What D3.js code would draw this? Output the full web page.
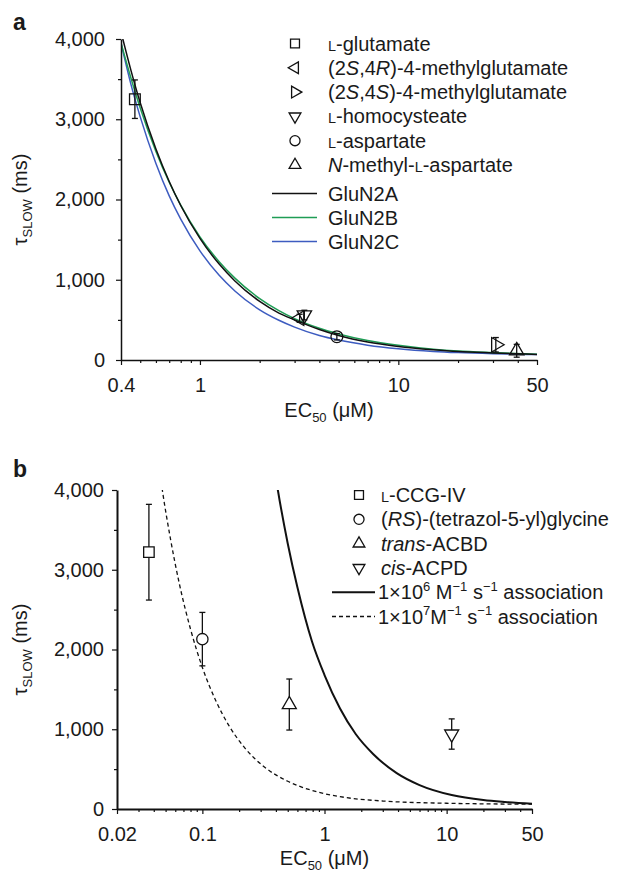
<!DOCTYPE html>
<html>
<head>
<meta charset="utf-8">
<script src="https://cdn.jsdelivr.net/npm/d3@7"></script>
<style>
  body { margin: 0; background: #fff; }
  svg text { font-family: "Liberation Sans", Arial, sans-serif; fill: #1a1a1a; }
</style>
</head>
<body>
<svg id="chart" width="617" height="873"></svg>
<script>
// ---------- panel a ----------
const labelsA = [
  "<sc>L</sc>-glutamate",
  "(2<i>S</i>,4<i>R</i>)-4-methylglutamate",
  "(2<i>S</i>,4<i>S</i>)-4-methylglutamate",
  "<sc>L</sc>-homocysteate",
  "<sc>L</sc>-aspartate",
  "<i>N</i>-methyl-<sc>L</sc>-aspartate"
];
const symbolsA = ["square", "left", "right", "down", "circle", "up"];
const ec50A = [0.47, 3.18, 31, 3.36, 4.9, 39.5];
const tauA = [3250, 520, 190, 560, 290, 115];
const errA = [240, 50, 90, 60, 40, 80];

const curveNamesA = ["GluN2A", "GluN2B", "GluN2C"];
const curveColorsA = ["#111111", "#1f9d55", "#3d5cc0"];
const curveEcA = [0.4, 0.45, 0.5, 0.6, 0.7, 0.8, 1, 1.25, 1.5, 2, 2.5, 3, 4, 5, 7, 10, 15, 20, 30, 50];
const glun2aTau = [4090, 3600, 3205, 2630, 2225, 1925, 1515, 1195, 985, 730, 585, 500, 380, 305, 223, 168, 127, 105, 88, 70];
const glun2bTau = [3950, 3505, 3140, 2600, 2215, 1930, 1535, 1225, 1020, 765, 615, 515, 395, 325, 243, 184, 135, 112, 92, 72];
const glun2cTau = [3950, 3425, 3030, 2450, 2045, 1755, 1360, 1055, 860, 625, 495, 410, 305, 248, 185, 140, 107, 92, 78, 67];

const xTicksA = [0.4, 1, 10, 50];
const xMinorA = [0.5, 0.6, 0.7, 0.8, 0.9, 2, 3, 4, 5, 6, 7, 8, 9, 20, 30, 40];

// ---------- panel b ----------
const labelsB = [
  "<sc>L</sc>-CCG-IV",
  "(<i>RS</i>)-(tetrazol-5-yl)glycine",
  "<i>trans</i>-ACBD",
  "<i>cis</i>-ACPD"
];
const symbolsB = ["square", "circle", "up", "down"];
const ec50B = [0.0365, 0.1, 0.515, 11];
const tauB = [3220, 2130, 1310, 940];
const errB = [600, 335, 320, 190];

const lineLabelsB = [
  "1×10<sup>6</sup> M<sup>−1</sup> s<sup>−1</sup> association",
  "1×10<sup>7</sup>M<sup>−1</sup> s<sup>−1</sup> association"
];
const assoc6Ec = [0.4, 0.415, 0.5, 0.6, 0.79, 1, 1.34, 1.8, 2.5, 3.9, 6, 11, 20, 30, 50];
const assoc6Tau = [4150, 4000, 3330, 2780, 2100, 1680, 1260, 940, 690, 450, 300, 175, 112, 88, 66];
const assoc7Ec = [0.045, 0.047, 0.055, 0.065, 0.08, 0.1, 0.13, 0.165, 0.22, 0.32, 0.5, 0.8, 1.34, 3, 10, 50];
const assoc7Tau = [4200, 4000, 3375, 2815, 2255, 1775, 1345, 1045, 775, 530, 348, 230, 155, 100, 72, 60];

const xTicksB = [0.02, 0.1, 1, 10, 50];
const xMinorB = [0.03, 0.04, 0.05, 0.06, 0.07, 0.08, 0.09, 0.2, 0.3, 0.4, 0.5, 0.6, 0.7, 0.8, 0.9,
                 2, 3, 4, 5, 6, 7, 8, 9, 20, 30, 40];

// shared y ticks
const yTicks = [0, 1000, 2000, 3000, 4000];
const yMinor = [500, 1500, 2500, 3500];

const FONT = '"Liberation Sans", Arial, sans-serif';
const svg = d3.select("#chart");

// small markup -> tspans (italic, small caps, sup, sub)
function richText(textSel, markup, size) {
  const parts = markup.split(/(<\/?\w+>)/).filter(s => s.length);
  const st = { i: false, sc: false, sup: false, sub: false };
  let cur = 0;
  parts.forEach(p => {
    if (p[0] === "<") {
      const close = p[1] === "/";
      const tag = p.replace(/[<>\/]/g, "");
      st[tag] = !close;
      return;
    }
    const off = st.sup ? -0.42 * size : st.sub ? 0.25 * size : 0;
    const t = textSel.append("tspan").text(p).attr("dy", off - cur);
    cur = off;
    if (st.i) t.style("font-style", "italic");
    if (st.sc) t.attr("font-size", size * 0.72);
    if (st.sup || st.sub) t.attr("font-size", size * 0.65);
  });
}

function symbolPath(kind, size) {
  if (kind === "square") return d3.symbol(d3.symbolSquare, size)();
  if (kind === "circle") return d3.symbol(d3.symbolCircle, size)();
  return d3.symbol(d3.symbolTriangle, size)();
}
function symbolRot(kind) {
  return { left: -90, right: 90, down: 180 }[kind] || 0;
}

function drawMarker(g, kind, cx, cy, size, fill) {
  g.append("path")
    .attr("d", symbolPath(kind, size))
    .attr("transform", `translate(${cx},${cy}) rotate(${symbolRot(kind)})`)
    .attr("fill", fill)
    .attr("stroke", "#111")
    .attr("stroke-width", 1.3);
}

function drawAxes(g, x, y, cfg) {
  const [x0, x1] = x.range();
  const [y0, y1] = y.range();

  g.append("g").attr("transform", `translate(0,${y0})`)
    .call(d3.axisBottom(x).tickValues(cfg.xMinor).tickSize(3).tickFormat(""))
    .call(s => s.select(".domain").remove())
    .selectAll("line").attr("stroke", "#111").attr("stroke-width", 1.2);

  const xa = g.append("g").attr("transform", `translate(0,${y0})`)
    .call(d3.axisBottom(x).tickValues(cfg.xTicks).tickSize(5).tickSizeOuter(0)
      .tickPadding(13).tickFormat(d => String(d)));
  xa.attr("font-size", 20).attr("font-family", FONT);
  xa.select(".domain").attr("stroke", "#111").attr("stroke-width", cfg.axisW);
  xa.selectAll("line").attr("stroke", "#111").attr("stroke-width", 1.2);

  g.append("g").attr("transform", `translate(${x0},0)`)
    .call(d3.axisLeft(y).tickValues(yMinor).tickSize(3).tickFormat(""))
    .call(s => s.select(".domain").remove())
    .selectAll("line").attr("stroke", "#111").attr("stroke-width", 1.2);

  const ya = g.append("g").attr("transform", `translate(${x0},0)`)
    .call(d3.axisLeft(y).tickValues(yTicks).tickSize(5).tickSizeOuter(0)
      .tickPadding(cfg.yPad).tickFormat(d3.format(",")));
  ya.attr("font-size", 20).attr("font-family", FONT);
  ya.select(".domain").attr("stroke", "#111").attr("stroke-width", cfg.axisW);
  ya.selectAll("line").attr("stroke", "#111").attr("stroke-width", 1.2);

  // axis titles
  const yt = g.append("text")
    .attr("transform", `translate(27,${(y0 + y1) / 2}) rotate(-90)`)
    .attr("text-anchor", "middle").attr("font-size", 20);
  richText(yt, "τ<sub>SLOW</sub> (ms)", 20);

  const xt = g.append("text")
    .attr("x", (x0 + x1) / 2).attr("y", cfg.xTitleY)
    .attr("text-anchor", "middle").attr("font-size", 20);
  richText(xt, "EC<sub>50</sub> (μM)", 20);

  g.append("text").attr("x", 13).attr("y", cfg.letterY)
    .attr("font-size", 23).attr("font-weight", "bold").text(cfg.letter);
}

function drawErr(g, cx, yTop, yBot, cap) {
  g.append("line").attr("x1", cx).attr("x2", cx).attr("y1", yTop).attr("y2", yBot)
    .attr("stroke", "#111").attr("stroke-width", 1.3);
  [yTop, yBot].forEach(yy => g.append("line")
    .attr("x1", cx - cap).attr("x2", cx + cap).attr("y1", yy).attr("y2", yy)
    .attr("stroke", "#111").attr("stroke-width", 1.3));
}

// ================= panel a =================
{
  const g = svg.append("g");
  const x = d3.scaleLog().domain([0.4, 50]).range([121, 537]);
  const y = d3.scaleLinear().domain([0, 4000]).range([360, 39]);

  svg.append("clipPath").attr("id", "clipA").append("rect")
    .attr("x", 121).attr("y", 39).attr("width", 416).attr("height", 321);

  const line = d3.line().x(d => x(d[0])).y(d => y(d[1])).curve(d3.curveMonotoneX);
  const series = [glun2aTau, glun2bTau, glun2cTau];
  // blue, green, then black on top
  [2, 1, 0].forEach(k => {
    g.append("path")
      .attr("clip-path", "url(#clipA)")
      .attr("d", line(curveEcA.map((e, i) => [e, series[k][i]])))
      .attr("fill", "none").attr("stroke", curveColorsA[k]).attr("stroke-width", 1.5);
  });

  ec50A.forEach((e, i) => {
    drawErr(g, x(e), y(tauA[i] + errA[i]), y(tauA[i] - errA[i]), 3);
    const sz = symbolsA[i] === "square" ? 115 : symbolsA[i] === "circle" ? 110 : 90;
    drawMarker(g, symbolsA[i], x(e), y(tauA[i]), sz, "none");
  });

  drawAxes(g, x, y, { xTicks: xTicksA, xMinor: xMinorA, axisW: 1.5, yPad: 11,
                      xTitleY: 417, letter: "a", letterY: 30 });

  // legend
  const lg = g.append("g");
  const rowY = [43.5, 67.8, 92.1, 116.4, 140.7, 165];
  labelsA.forEach((lab, i) => {
    const sz = symbolsA[i] === "square" ? 80 : symbolsA[i] === "circle" ? 80 : 60;
    drawMarker(lg, symbolsA[i], 295, rowY[i], sz, "none");
    const t = lg.append("text").attr("x", 328).attr("y", rowY[i] + 7).attr("font-size", 20);
    richText(t, lab, 20);
  });
  const lineRowY = [193.5, 217.5, 241.5];
  curveNamesA.forEach((n, i) => {
    lg.append("line").attr("x1", 272).attr("x2", 317).attr("y1", lineRowY[i]).attr("y2", lineRowY[i])
      .attr("stroke", curveColorsA[i]).attr("stroke-width", 1.5);
    lg.append("text").attr("x", 328).attr("y", lineRowY[i] + 7).attr("font-size", 20).text(n);
  });
}

// ================= panel b =================
{
  const g = svg.append("g");
  const x = d3.scaleLog().domain([0.02, 50]).range([117, 532]);
  const y = d3.scaleLinear().domain([0, 4000]).range([809, 490]);

  svg.append("clipPath").attr("id", "clipB").append("rect")
    .attr("x", 117).attr("y", 490).attr("width", 415).attr("height", 319);

  const line = d3.line().x(d => x(d[0])).y(d => y(d[1])).curve(d3.curveMonotoneX);
  g.append("path").attr("clip-path", "url(#clipB)")
    .attr("d", line(assoc6Ec.map((e, i) => [e, assoc6Tau[i]])))
    .attr("fill", "none").attr("stroke", "#111").attr("stroke-width", 2);
  g.append("path").attr("clip-path", "url(#clipB)")
    .attr("d", line(assoc7Ec.map((e, i) => [e, assoc7Tau[i]])))
    .attr("fill", "none").attr("stroke", "#111").attr("stroke-width", 1.3)
    .attr("stroke-dasharray", "4,3");

  ec50B.forEach((e, i) => {
    drawErr(g, x(e), y(tauB[i] + errB[i]), y(tauB[i] - errB[i]), 3);
    const sz = symbolsB[i] === "square" ? 110 : symbolsB[i] === "circle" ? 100 : 85;
    drawMarker(g, symbolsB[i], x(e), y(tauB[i]), sz, "#fff");
  });

  drawAxes(g, x, y, { xTicks: xTicksB, xMinor: xMinorB, axisW: 2, yPad: 8,
                      xTitleY: 865, letter: "b", letterY: 477 });

  const lg = g.append("g");
  const rowY = [495, 519.3, 543.6, 567.9];
  labelsB.forEach((lab, i) => {
    const sz = symbolsB[i] === "square" ? 80 : symbolsB[i] === "circle" ? 80 : 60;
    drawMarker(lg, symbolsB[i], 359, rowY[i], sz, "none");
    const t = lg.append("text").attr("x", 381).attr("y", rowY[i] + 7).attr("font-size", 20);
    richText(t, lab, 20);
  });
  const lineRowY = [592.2, 616.5];
  lineLabelsB.forEach((lab, i) => {
    lg.append("line").attr("x1", 332).attr("x2", 375).attr("y1", lineRowY[i]).attr("y2", lineRowY[i])
      .attr("stroke", "#111").attr("stroke-width", i === 0 ? 2 : 1.3)
      .attr("stroke-dasharray", i === 0 ? null : "4,3");
    const t = lg.append("text").attr("x", 378).attr("y", lineRowY[i] + 7).attr("font-size", 20);
    richText(t, lab, 20);
  });
}
</script>
</body>
</html>
